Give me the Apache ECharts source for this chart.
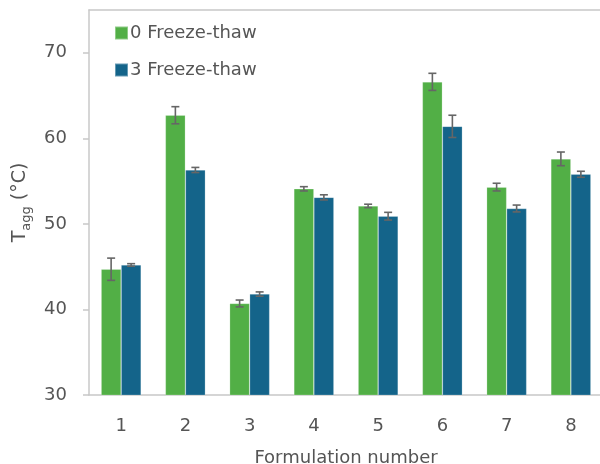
<!DOCTYPE html>
<html>
<head>
<meta charset="utf-8">
<script src="https://cdn.jsdelivr.net/npm/echarts@6/dist/echarts.min.js"></script>
<style>
  html, body { margin: 0; padding: 0; background: #fff; }
  #chart { width: 600px; height: 464px; }
</style>
</head>
<body>
<div id="chart"></div>
<script>
// Aggregation onset temperature per formulation, before and after freeze-thaw cycling
const categories = ['1', '2', '3', '4', '5', '6', '7', '8'];
const seriesNames = ['0 Freeze-thaw', '3 Freeze-thaw'];
const tagg0 = [44.7, 62.7, 40.7, 54.1, 52.1, 66.6, 54.3, 57.6];
const err0  = [1.3, 1.0, 0.4, 0.25, 0.2, 1.0, 0.45, 0.8];
const tagg3 = [45.2, 56.3, 41.8, 53.1, 50.9, 61.4, 51.8, 55.8];
const err3  = [0.15, 0.3, 0.25, 0.3, 0.45, 1.3, 0.4, 0.35];
const yTicks = [30, 40, 50, 60, 70];

const GREEN = '#52af46';
const BLUE = '#14648a';
const TEXT = '#555555';
const AXIS = '#c8c8c8';
const FONT = 'DejaVu Sans';

const chart = echarts.init(document.getElementById('chart'), null, { renderer: 'canvas' });

// Error whiskers centred on each bar of one series (index 0 = left bar, 1 = right bar)
function errorSeries(values, errs, side) {
  return {
    type: 'custom',
    z: 10,
    silent: true,
    data: values.map((v, i) => [i, v - errs[i], v + errs[i]]),
    renderItem(params, api) {
      const cat = api.value(0);
      const lo = api.coord([cat, api.value(1)]);
      const hi = api.coord([cat, api.value(2)]);
      const barW = 20;
      const x = lo[0] + (side === 0 ? -barW / 2 : barW / 2);
      const cap = 4;
      const style = { stroke: '#666666', lineWidth: 1.6 };
      return {
        type: 'group',
        children: [
          { type: 'line', shape: { x1: x, y1: lo[1], x2: x, y2: hi[1] }, style },
          { type: 'line', shape: { x1: x - cap, y1: hi[1], x2: x + cap, y2: hi[1] }, style },
          { type: 'line', shape: { x1: x - cap, y1: lo[1], x2: x + cap, y2: lo[1] }, style }
        ]
      };
    }
  };
}

chart.setOption({
  animation: false,
  textStyle: { fontFamily: FONT, color: TEXT },
  grid: {
    left: 89, right: -3, top: 10, bottom: 69,
    containLabel: false,
    outerBoundsMode: 'none'
  },
  legend: {
    orient: 'vertical',
    left: 109, top: 19,
    itemWidth: 13, itemHeight: 13, itemGap: 19,
    icon: 'rect',
    textStyle: { fontFamily: FONT, fontSize: 18, color: TEXT, padding: [0, 0, 0, -3] },
    data: seriesNames
  },
  xAxis: [
    {
      type: 'category',
      data: categories,
      axisLine: { lineStyle: { color: AXIS, width: 1.5 } },
      axisTick: { show: false },
      axisLabel: { fontFamily: FONT, fontSize: 18, color: TEXT, margin: 22 },
      name: 'Formulation number',
      nameLocation: 'middle',
      nameGap: 54,
      nameTextStyle: { fontFamily: FONT, fontSize: 18, color: TEXT }
    },
    {
      // plain frame line along the top of the plot
      type: 'category',
      position: 'top',
      data: categories,
      axisLine: { show: true, lineStyle: { color: AXIS, width: 1.5 } },
      axisTick: { show: false },
      axisLabel: { show: false }
    }
  ],
  yAxis: {
    type: 'value',
    min: 30, max: 75, interval: 10,
    axisLine: { show: true, lineStyle: { color: AXIS, width: 1.5 } },
    axisTick: { show: true, length: 6, customValues: yTicks, lineStyle: { color: AXIS, width: 1.5 } },
    axisLabel: { fontFamily: FONT, fontSize: 18, color: TEXT, margin: 22, customValues: yTicks },
    splitLine: { show: false },
    name: '{t|T}{s|agg}{t| (°C)}',
    nameLocation: 'middle',
    nameGap: 56,
    nameTextStyle: {
      fontFamily: FONT,
      color: TEXT,
      rich: {
        t: { fontFamily: FONT, fontSize: 19, color: TEXT, lineHeight: 26, verticalAlign: 'middle' },
        s: { fontFamily: FONT, fontSize: 13, color: TEXT, lineHeight: 26, verticalAlign: 'bottom' }
      }
    }
  },
  series: [
    {
      name: seriesNames[0], type: 'bar', data: tagg0,
      barWidth: 20, barGap: '0%',
      itemStyle: { color: GREEN, borderColor: 'rgba(255,255,255,0.35)', borderWidth: 0.6 }
    },
    {
      name: seriesNames[1], type: 'bar', data: tagg3,
      barWidth: 20, barGap: '0%',
      itemStyle: { color: BLUE, borderColor: 'rgba(255,255,255,0.35)', borderWidth: 0.6 }
    },
    errorSeries(tagg0, err0, 0),
    errorSeries(tagg3, err3, 1)
  ]
});
</script>
</body>
</html>
